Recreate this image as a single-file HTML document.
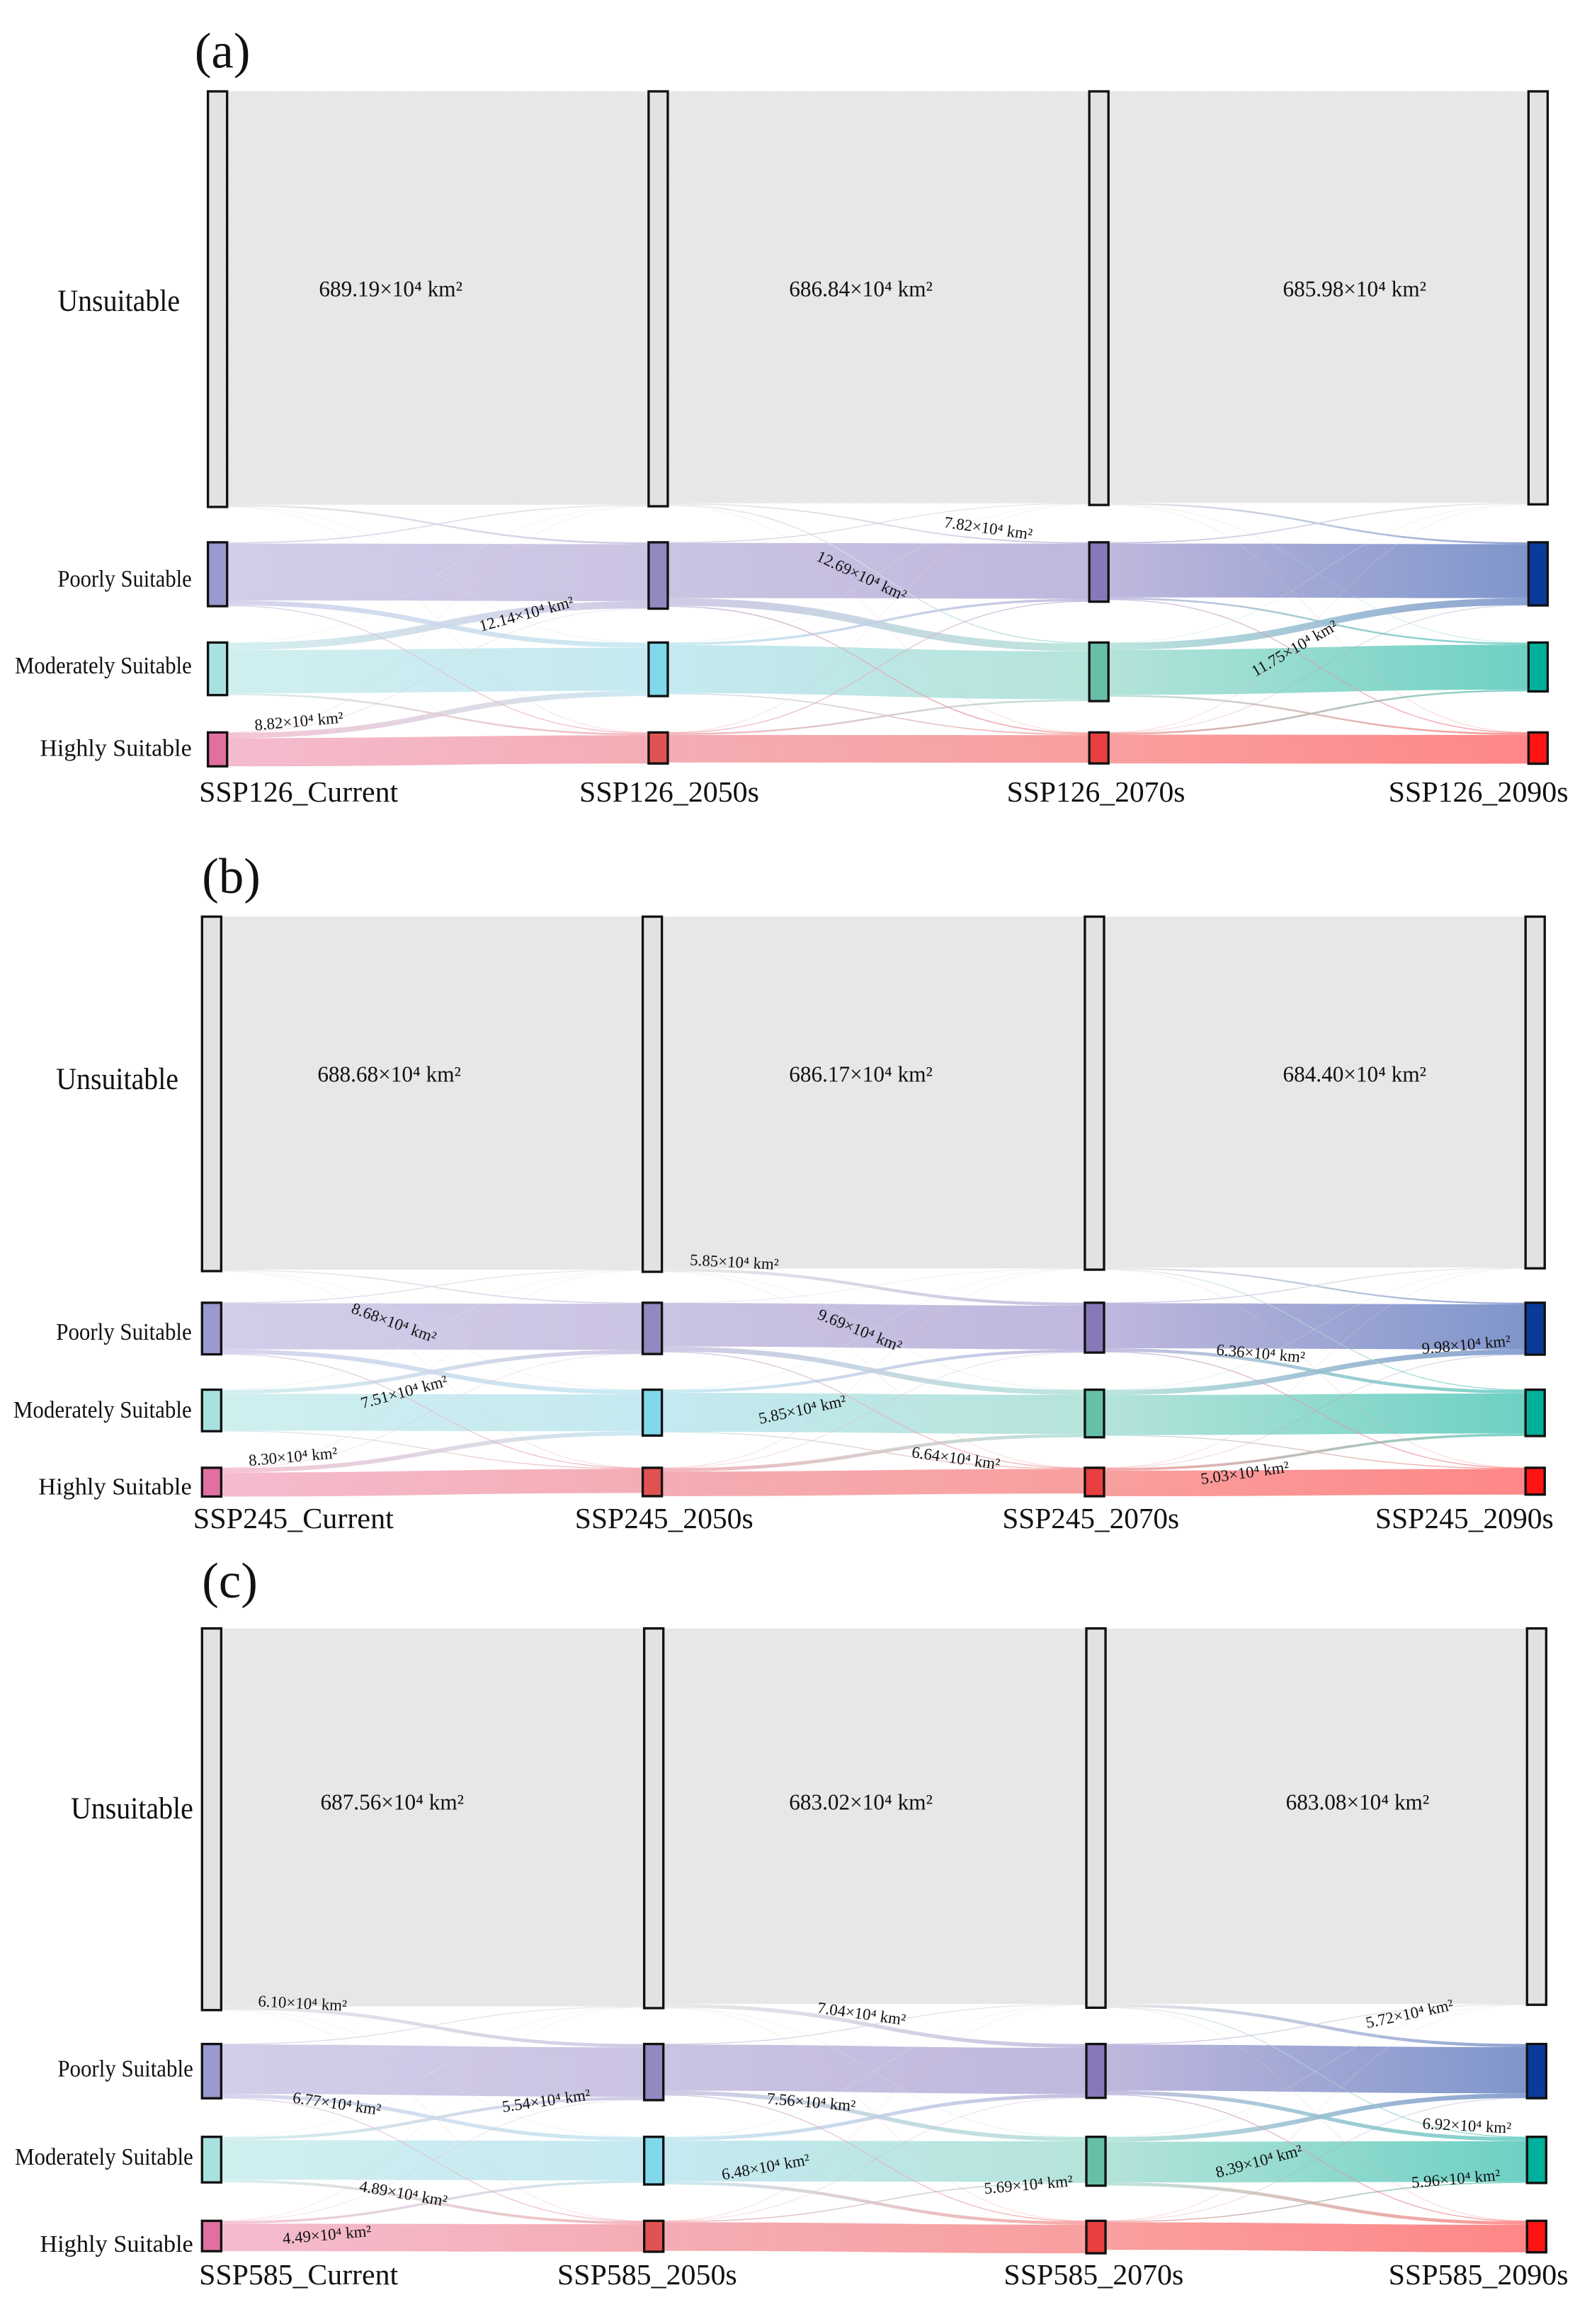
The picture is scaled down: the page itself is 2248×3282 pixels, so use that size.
<!DOCTYPE html>
<html><head><meta charset="utf-8">
<style>
html,body{margin:0;padding:0;background:#fff;}
svg{display:block;}
text{font-family:"Liberation Serif","Times New Roman",serif;fill:#111;}
</style></head>
<body>
<svg id="chart" xmlns="http://www.w3.org/2000/svg" width="2248" height="3282" viewBox="0 0 1080 1577">
<defs id="defs"></defs>
</svg>
<script>
// ---------- DATA (10^4 km^2) ----------
const classes = ['Unsuitable','Poorly Suitable','Moderately Suitable','Highly Suitable'];
const panelTitles = ['(a)','(b)','(c)'];
const columnsA = ['SSP126_Current','SSP126_2050s','SSP126_2070s','SSP126_2090s'];
const columnsB = ['SSP245_Current','SSP245_2050s','SSP245_2070s','SSP245_2090s'];
const columnsC = ['SSP585_Current','SSP585_2050s','SSP585_2070s','SSP585_2090s'];
// transition matrices [from][to]
const flowsA1 = [[689.19,3,0.5,0.3],[2,95,8,1.5],[0.5,12.14,72,3],[0.2,0.5,8.82,47]];
const flowsA2 = [[686.84,2,2,0.5],[1,92,12.69,2],[0.3,4,80,2],[0.2,1,3,46]];
const flowsA3 = [[685.98,3,0.5,0.2],[2,90,3,1],[0.5,11.75,75,3],[0.2,0.5,3,48]];
const flowsB1 = [[688.68,2,0.5,0.3],[1,90,8.68,1],[0.5,7.51,72,1],[0.3,0.5,8.30,47]];
const flowsB2 = [[686.17,5.85,0.5,0.3],[0.5,85,9.69,1],[0.3,5.85,76,1],[0.2,0.5,6.64,48]];
const flowsB3 = [[684.40,3,1,0.3],[1,88,6.36,1],[0.5,9.98,78,1],[0.2,0.3,5.03,50]];
const flowsC1 = [[687.56,6.10,0.5,0.3],[1,90,6.77,1],[0.5,5.54,72,4.89],[0.2,0.5,4.49,50]];
const flowsC2 = [[683.02,7.04,0.5,0.3],[1,84,7.56,1],[0.5,6.48,74,5.69],[0.2,0.5,2,52]];
const flowsC3 = [[683.08,5.72,1,0.3],[1,84,6.92,1],[0.5,8.39,74,5.96],[0.2,0.5,2,50]];
// printed link labels
const labelsA = ['689.19×10⁴ km²','686.84×10⁴ km²','685.98×10⁴ km²','7.82×10⁴ km²','12.69×10⁴ km²','12.14×10⁴ km²','8.82×10⁴ km²','11.75×10⁴ km²'];
const labelsB = ['688.68×10⁴ km²','686.17×10⁴ km²','684.40×10⁴ km²','5.85×10⁴ km²','8.68×10⁴ km²','7.51×10⁴ km²','8.30×10⁴ km²','9.69×10⁴ km²','5.85×10⁴ km²','6.64×10⁴ km²','6.36×10⁴ km²','9.98×10⁴ km²','5.03×10⁴ km²'];
const labelsC = ['687.56×10⁴ km²','683.02×10⁴ km²','683.08×10⁴ km²','6.10×10⁴ km²','6.77×10⁴ km²','5.54×10⁴ km²','4.89×10⁴ km²','4.49×10⁴ km²','7.04×10⁴ km²','7.56×10⁴ km²','6.48×10⁴ km²','5.69×10⁴ km²','5.72×10⁴ km²','6.92×10⁴ km²','8.39×10⁴ km²','5.96×10⁴ km²'];

// ---------- LAYOUT ----------
const panels = [
 {id:'a',title:[132,46],cols:columnsA,flows:[flowsA1,flowsA2,flowsA3],labels:labelsA,
  nodeX:[141,440,739,1037],tops:[62,368,436,497],uH:282,colLabY:544,
  colLab:[[135,270],[393,515],[683,804],[942,1064]],
  left:[[39,122,211],[39,130,398],[10,130,457],[27,130,513]],
  lpos:[[265,201,0,1],[584,201,0,1],[919,201,0,1],[670,362,8,0],[583,394,25,0],[358,420,-15,0],[203,493,-5,0],[880,443,-30,0]]},
 {id:'b',title:[137,606],cols:columnsB,flows:[flowsB1,flowsB2,flowsB3],labels:labelsB,
  nodeX:[137,436,736,1035],tops:[622,884,943,996],uH:241,colLabY:1037,
  colLab:[[131,267],[390,511],[680,800],[933,1054]],
  left:[[38,121,739],[38,130,909],[9,130,962],[26,130,1014]],
  lpos:[[264,734,0,1],[584,734,0,1],[919,734,0,1],[498,860,3,0],[266,901,20,0],[275,948,-15,0],[199,992,-5,0],[582,906,22,0],[545,960,-12,0],[648,993,8,0],[855,922,5,0],[995,916,-5,0],[845,1003,-8,0]]},
 {id:'c',title:[137,1084],cols:columnsC,flows:[flowsC1,flowsC2,flowsC3],labels:labelsC,
  nodeX:[137,437,737,1036],tops:[1105,1387,1450,1507],uH:259,colLabY:1550,
  colLab:[[135,270],[378,500],[681,803],[942,1064]],
  left:[[48,131,1234],[39,131,1409],[10,131,1469],[27,131,1528]],
  lpos:[[266,1228,0,1],[584,1228,0,1],[921,1228,0,1],[205,1363,3,0],[228,1431,8,0],[371,1429,-8,0],[273,1492,10,0],[222,1520,-5,0],[584,1370,8,0],[550,1430,5,0],[520,1474,-10,0],[698,1486,-5,0],[957,1370,-12,0],[995,1446,3,0],[855,1470,-15,0],[988,1482,-5,0]]}
];
const nodeW = 13;
const nodeColors = [
 ['#e2e2e2','#e2e2e2','#e2e2e2','#e2e2e2'],
 ['#9a9ad0','#9488c0','#8878b8','#0a3a9a'],
 ['#a8e2e0','#80d8ea','#66c0a8','#00b09a'],
 ['#e070a0','#e05252','#e84040','#ff1414']];
const flowColors = [
 ['#e6e6e6','#e6e6e6','#e6e6e6','#e6e6e6'],
 ['#cfcbe8','#c8c0e0','#bcb4dc','#7890c8'],
 ['#cdeeee','#c2e8f0','#b0e2d8','#66cec0'],
 ['#f4b8cc','#f4a8b0','#f89a9a','#ff8080']];

const NS='http://www.w3.org/2000/svg';
const svg=document.getElementById('chart');
const defs=document.getElementById('defs');
function mk(tag,attrs,parent){const e=document.createElementNS(NS,tag);for(const k in attrs)e.setAttribute(k,attrs[k]);(parent||svg).appendChild(e);return e;}
let gid=0;

panels.forEach(p=>{
  const g=mk('g',{});
  
  
  const vals=[];
  for(let c=0;c<4;c++){
    vals.push([0,1,2,3].map(k=>{
      const out=c<3?p.flows[c][k].reduce((a,b)=>a+b,0):0;
      const inn=c>0?p.flows[c-1].reduce((a,r)=>a+r[k],0):0;
      return Math.max(out,inn);
    }));
  }
  const maxU=Math.max(...vals.map(v=>v[0]));
  const sc=p.uH/maxU;
  const yScale=v=>v*sc;
  for(let c=0;c<3;c++){
    const m=p.flows[c];
    const outOff=[0,0,0,0], inOff=[0,0,0,0];
    const links=[];
    for(let s=0;s<4;s++)for(let t=0;t<4;t++){
      const w=yScale(m[s][t]);
      links.push({s,t,v:m[s][t],w,y0:p.tops[s]+outOff[s]+w/2});
      outOff[s]+=w;
    }
    for(let t=0;t<4;t++)for(let s=0;s<4;s++){
      const L=links.find(l=>l.s===s&&l.t===t);
      L.y1=p.tops[t]+inOff[t]+L.w/2; inOff[t]+=L.w;
    }
    links.sort((a,b)=>b.w-a.w);
    links.forEach(L=>{
      const x0=p.nodeX[c]+nodeW, x1=p.nodeX[c+1], xm=(x0+x1)/2;
      const id='lg'+(gid++);
      const lg=mk('linearGradient',{id,x1:x0,x2:x1,y1:0,y2:0,gradientUnits:'userSpaceOnUse'},defs);
      mk('stop',{offset:'0','stop-color':flowColors[L.s][c]},lg);
      mk('stop',{offset:'1','stop-color':flowColors[L.t][c+1]},lg);
      const h=Math.max(L.w,0.6)/2;
      const d=`M${x0},${L.y0-h}C${xm},${L.y0-h} ${xm},${L.y1-h} ${x1},${L.y1-h}L${x1},${L.y1+h}C${xm},${L.y1+h} ${xm},${L.y0+h} ${x0},${L.y0+h}Z`;
      const op = L.s===L.t ? 0.95 : (L.v<1 ? 0.35 : 0.85);
      const path=mk('path',{d,fill:`url(#${id})`,'fill-opacity':op},g);
      
      
    });
  }
  for(let c=0;c<4;c++)for(let k=0;k<4;k++){
    const r=mk('rect',{x:p.nodeX[c],y:p.tops[k],width:nodeW,height:yScale(vals[c][k]),fill:nodeColors[k][c],stroke:'#111','stroke-width':1.6},g);
    
    
  }
  p.labels.forEach((txt,i)=>{
    const [x,y,a,big]=p.lpos[i];
    const t=mk('text',{x,y,'text-anchor':'middle','font-size':big?15:11,transform:`rotate(${a} ${x} ${y})`},g);
    t.textContent=txt;
    
    
  });
  const tt=mk('text',{x:p.title[0],y:p.title[1],'font-size':34},g);
  tt.textContent=panelTitles[panels.indexOf(p)];
  
  
  classes.forEach((cl,k)=>{
    const [x0,x1,y]=p.left[k];
    const t=mk('text',{x:x0,y,'font-size':k===0?21:16,textLength:x1-x0,lengthAdjust:'spacingAndGlyphs'},g);
    t.textContent=cl;
    
    
  });
  p.cols.forEach((cl,c)=>{
    const [x0,x1]=p.colLab[c];
    const t=mk('text',{x:x0,y:p.colLabY,'font-size':20,textLength:x1-x0,lengthAdjust:'spacingAndGlyphs'},g);
    t.textContent=cl;
    
    
  });
});
</script>
</body></html>
